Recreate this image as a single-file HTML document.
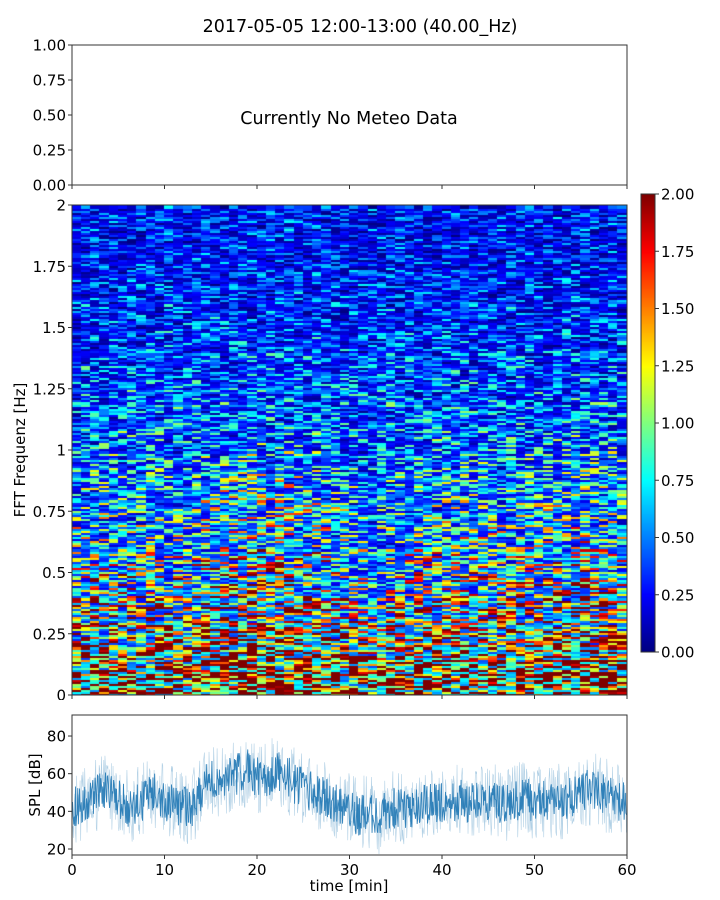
<!DOCTYPE html>
<html><head><meta charset="utf-8">
<style>
body{margin:0;background:#fff;font-family:"Liberation Sans","DejaVu Sans",sans-serif;}
#wrap{position:relative;width:720px;height:900px;overflow:hidden;}
canvas{position:absolute;}
svg{position:absolute;left:0;top:0;}
text{font-family:"DejaVu Sans","Liberation Sans",sans-serif;fill:#000;}
</style></head>
<body>
<div id="wrap">
<canvas id="spec" width="555" height="490" style="left:72px;top:205px"></canvas>
<canvas id="cbar" width="14" height="458" style="left:641px;top:194px"></canvas>
<svg id="svg" width="720" height="900"></svg>
</div>
<script>
// ---- data ----
const freqBands = [0,0.1,0.2,0.3,0.4,0.5,0.6,0.7,0.8,0.9,1.0,1.1,1.2,1.3,1.4,1.5,1.6,1.7,1.8,1.9];
const freqProfile = [1.9,1.55,1.3,1.1,0.95,0.85,0.72,0.65,0.6,0.55,0.5,0.45,0.42,0.4,0.37,0.34,0.32,0.3,0.3,0.3];
const timeProfile = [1.0,1.0,1.05,1.0,0.95,1.0,0.95,0.95,1.0,1.0,1.0,1.0,0.95,0.95,1.1,1.1,1.15,1.15,1.2,1.25,1.2,1.15,1.2,1.2,1.15,1.1,1.1,1.05,1.0,0.95,0.9,0.85,0.85,0.85,0.9,0.9,0.95,1.0,1.0,1.0,1.0,1.0,1.05,1.05,1.05,1.0,1.0,1.0,1.05,1.0,1.0,1.05,1.05,1.05,1.1,1.1,1.1,1.05,1.05,1.0];
const splMinutes = [0,1,2,3,4,5,6,7,8,9,10,11,12,13,14,15,16,17,18,19,20,21,22,23,24,25,26,27,28,29,30,31,32,33,34,35,36,37,38,39,40,41,42,43,44,45,46,47,48,49,50,51,52,53,54,55,56,57,58,59,60];
const splMean = [42,44,46,50,52,46,42,44,47,50,45,44,43,42,52,56,56,58,60,62,58,57,62,60,55,52,50,48,46,44,40,38,40,36,40,42,42,41,44,44,45,45,46,45,47,46,45,44,46,47,45,46,46,45,48,50,52,50,48,46,44];
const splTicks = [20,40,60,80];
const timeTicks = [0,10,20,30,40,50,60];
const freqTicks = [0,0.25,0.5,0.75,1,1.25,1.5,1.75,2];
const freqTickLabels = ["0","0.25","0.5","0.75","1","1.25","1.5","1.75","2"];
const cbarTicks = [0,0.25,0.5,0.75,1,1.25,1.5,1.75,2];
const topTicks = [0,0.25,0.5,0.75,1];

// ---- scales ----
const xT = m => 72 + m/60*555;
const ySpec = f => 695 - f/2*490;
const ySpl = v => 849 - (v-20)*1.883;
const yTop = v => 185 - v*140;
const yCb = v => 652 - v/2*458;

function hash(a,b){let h=(a*374761393+b*668265263)|0;h=(h^(h>>>13))*1274126177|0;h=h^(h>>>16);return ((h>>>0)%100000)/100000;}
function jet(v){v=Math.max(0,Math.min(1,v));
 const r=Math.max(0,Math.min(1,1.5-Math.abs(4*v-3))),g=Math.max(0,Math.min(1,1.5-Math.abs(4*v-2))),b=Math.max(0,Math.min(1,1.5-Math.abs(4*v-1)));
 return `rgb(${r*255|0},${g*255|0},${b*255|0})`;}

// spectrogram
const ctx=document.getElementById('spec').getContext('2d');
const nRows=240,nCols=60;
for(let c=0;c<nCols;c++){for(let r=0;r<nRows;r++){
 const f=(r+0.5)/nRows*2;const bi=Math.min(19,Math.floor(f/0.1));
 let base=freqProfile[bi]*(f<1?timeProfile[c]:1);
 const n=hash(c,r), n2=hash(r,c+999);
 let v=base*(0.3+1.4*n*n*1.4)+ (n2-0.5)*0.25;
 ctx.fillStyle=jet(v/2);
 const x0=xT(c)-72,x1=xT(c+1)-72,y0=ySpec((r+1)/nRows*2)-205,y1=ySpec(r/nRows*2)-205;
 ctx.fillRect(Math.floor(x0),Math.floor(y0),Math.ceil(x1-x0)+1,Math.ceil(y1-y0)+1);
}}
// colorbar
const cb=document.getElementById('cbar').getContext('2d');
for(let i=0;i<458;i++){cb.fillStyle=jet(1-i/458);cb.fillRect(0,i,14,1);}

const NS='http://www.w3.org/2000/svg';const svg=document.getElementById('svg');
function el(t,a,txt){const e=document.createElementNS(NS,t);for(const k in a)e.setAttribute(k,a[k]);if(txt!==undefined)e.textContent=txt;svg.appendChild(e);return e;}

let e;
e=el('text',{x:360,y:32,'font-size':17.5,'text-anchor':'middle'},'2017-05-05 12:00-13:00 (40.00_Hz)');



// top axes
e=el('rect',{x:72,y:45,width:555,height:140,fill:'none',stroke:'#333','stroke-width':1});


e=el('text',{x:349,y:124,'font-size':17.5,'text-anchor':'middle'},'Currently No Meteo Data');


topTicks.forEach(v=>{el('line',{x1:68,x2:72,y1:yTop(v),y2:yTop(v),stroke:'#333'});
 e=el('text',{x:66,y:yTop(v)+5.5,'font-size':15,'text-anchor':'end'},v.toFixed(2));
 
 });
timeTicks.forEach(m=>el('line',{x1:xT(m),x2:xT(m),y1:185,y2:189,stroke:'#333'}));

// spectrogram axes
e=el('rect',{x:72,y:205,width:555,height:490,fill:'none',stroke:'#333'});


freqTicks.forEach((v,i)=>{el('line',{x1:68,x2:72,y1:ySpec(v),y2:ySpec(v),stroke:'#333'});
 e=el('text',{x:66,y:ySpec(v)+5.5,'font-size':15,'text-anchor':'end'},freqTickLabels[i]);
 
 });
timeTicks.forEach(m=>el('line',{x1:xT(m),x2:xT(m),y1:695,y2:699,stroke:'#333'}));
e=el('text',{x:25,y:450,'font-size':15,'text-anchor':'middle',transform:'rotate(-90 25 450)'},'FFT Frequenz [Hz]');



// colorbar axes
e=el('rect',{x:641,y:194,width:14,height:458,fill:'none',stroke:'#333'});


cbarTicks.forEach(v=>{el('line',{x1:655,x2:659,y1:yCb(v),y2:yCb(v),stroke:'#333'});
 e=el('text',{x:661,y:yCb(v)+5.5,'font-size':15},v.toFixed(2));
 
 });

// SPL axes
const pts=[],ptsL=[];
for(let i=0;i<=60*16;i++){const m=i/16;const k=Math.min(59,Math.floor(m)),t=m-k;
 const mean=splMean[k]*(1-t)+splMean[k+1]*t;
 const n=hash(i,7)-0.5,n2=hash(i,31)-0.5;
 pts.push([xT(m),ySpl(mean+n*22)]);ptsL.push([xT(m),ySpl(mean+n2*40)]);}
e=el('polyline',{points:ptsL.map(p=>p.join(',')).join(' '),fill:'none',stroke:'#1f77b4','stroke-width':0.6,'stroke-opacity':0.35});


e=el('polyline',{points:pts.map(p=>p.join(',')).join(' '),fill:'none',stroke:'#1f77b4','stroke-width':0.9,'stroke-opacity':0.9});


el('rect',{x:0,y:856,width:720,height:44,fill:'#fff'});
el('rect',{x:0,y:700,width:720,height:14,fill:'#fff'});
e=el('rect',{x:72,y:715,width:555,height:140,fill:'none',stroke:'#333'});


splTicks.forEach(v=>{el('line',{x1:68,x2:72,y1:ySpl(v),y2:ySpl(v),stroke:'#333'});
 e=el('text',{x:66,y:ySpl(v)+5.5,'font-size':15,'text-anchor':'end'},String(v));
 
 });
timeTicks.forEach(m=>{el('line',{x1:xT(m),x2:xT(m),y1:855,y2:859,stroke:'#333'});
 e=el('text',{x:xT(m),y:875,'font-size':15,'text-anchor':'middle'},String(m));
 
 });
e=el('text',{x:349,y:891,'font-size':15,'text-anchor':'middle'},'time [min]');


e=el('text',{x:40,y:785,'font-size':15,'text-anchor':'middle',transform:'rotate(-90 40 785)'},'SPL [dB]');


</script>
</body></html>
